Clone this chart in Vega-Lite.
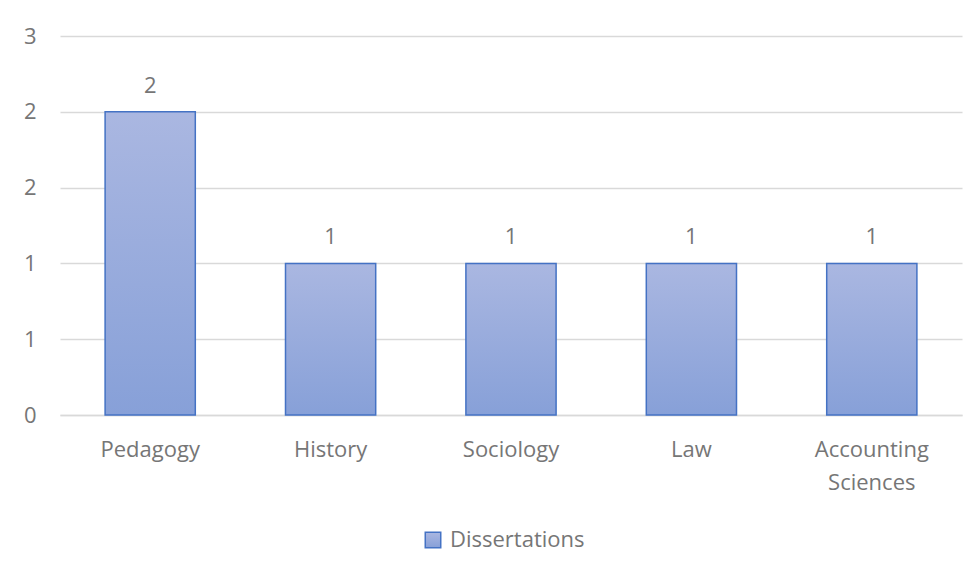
{
  "$schema": "https://vega.github.io/schema/vega-lite/v6.json",
  "width": 902,
  "height": 379,
  "autosize": {"type": "none"},
  "padding": {"left": 60, "top": 36, "right": 16, "bottom": 160},
  "background": "white",
  "config": {
    "view": {"stroke": null},
    "font": "Open Sans",
    "axis": {"labelFont": "Open Sans", "labelColor": "#767676", "labelFontSize": 22},
    "legend": {"labelFont": "Open Sans", "labelColor": "#767676", "labelFontSize": 22}
  },
  "data": {
    "values": [
      {"field": "Pedagogy", "count": 2},
      {"field": "History", "count": 1},
      {"field": "Sociology", "count": 1},
      {"field": "Law", "count": 1},
      {"field": "Accounting Sciences", "count": 1}
    ]
  },
  "encoding": {
    "x": {
      "field": "field",
      "type": "nominal",
      "sort": null,
      "scale": {"paddingInner": 0.5, "paddingOuter": 0.25},
      "axis": {
        "title": null,
        "labelAngle": 0,
        "domain": true,
        "domainColor": "#d9d9d9",
        "domainWidth": 1.5,
        "ticks": false,
        "labelPadding": 24,
        "labelLineHeight": 33,
        "labelExpr": "datum.label == 'Accounting Sciences' ? ['Accounting', 'Sciences'] : datum.label"
      }
    },
    "y": {
      "field": "count",
      "type": "quantitative",
      "scale": {"domain": [0, 2.5], "nice": false},
      "axis": {
        "title": null,
        "values": [0, 0.5, 1, 1.5, 2, 2.5],
        "labelExpr": "round(datum.value)",
        "domain": false,
        "ticks": false,
        "labelPadding": 24,
        "gridColor": "#d9d9d9",
        "gridWidth": 1.5
      }
    }
  },
  "layer": [
    {
      "mark": {
        "type": "bar",
        "fill": {
          "gradient": "linear",
          "x1": 0, "y1": 0, "x2": 0, "y2": 1,
          "stops": [
            {"offset": 0, "color": "#aab7e1"},
            {"offset": 1, "color": "#87a0d8"}
          ]
        },
        "strokeWidth": 1.5
      },
      "encoding": {
        "stroke": {
          "datum": "Dissertations",
          "scale": {"range": ["#4472c4"]},
          "legend": {
            "title": null,
            "orient": "none",
            "legendX": 362,
            "legendY": 493,
            "symbolType": "square",
            "symbolSize": 240,
            "symbolFillColor": "#9aaedf",
            "symbolStrokeWidth": 1.5,
            "labelOffset": 6
          }
        }
      }
    },
    {
      "mark": {
        "type": "text",
        "baseline": "alphabetic",
        "dy": -19,
        "fontSize": 22,
        "color": "#767676"
      },
      "encoding": {
        "text": {"field": "count", "type": "quantitative"}
      }
    }
  ]
}
